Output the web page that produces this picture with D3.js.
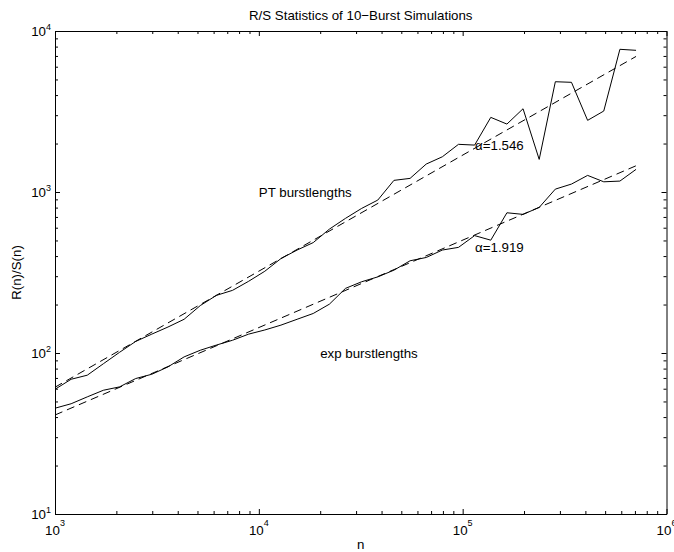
<!DOCTYPE html>
<html>
<head>
<meta charset="utf-8">
<script src="https://cdn.jsdelivr.net/npm/d3@7"></script>
<style>
  body { margin: 0; background: #fff; }
  svg { display: block; font-family: "Liberation Sans", Arial, Helvetica, sans-serif; }
</style>
</head>
<body>
<svg id="chart" width="674" height="552"></svg>
<script>
// block sizes n (x axis)
var n = [1000, 1200, 1440, 1728, 2074, 2488, 2986, 3583, 4300, 5160, 6192, 7430, 8916,
  10699, 12839, 15407, 18488, 22186, 26623, 31948, 38338, 46005, 55206, 66247, 79497,
  95396, 114475, 137371, 164845, 197814, 237376, 284852, 341822, 410186, 492223, 590668, 708801];

// R(n)/S(n), PT burstlengths
var ptRS = [59.5, 68.7, 72.8, 85.8, 101, 118, 131, 145, 162, 197, 228, 245, 279,
  322, 386, 436, 485, 588, 686, 791, 891, 1181, 1215, 1491, 1655,
  1977, 1956, 2908, 2642, 3289, 1594, 4841, 4800, 2786, 3183, 7696, 7586];

// R(n)/S(n), exp burstlengths
var expRS = [45.4, 48.4, 53.4, 58.7, 61.6, 69.4, 73.8, 82.0, 94.6, 104, 112, 120, 131,
  139, 149, 162, 176, 201, 252, 277, 297, 327, 374, 392, 436,
  453, 536, 502, 743, 726, 802, 1042, 1120, 1268, 1157, 1169, 1382];

// fitted lines (end points)
var ptFit = [[1000, 61.3], [708801, 6950]];
var expFit = [[1000, 41.2], [708801, 1455]];

var xTicks = [1e3, 1e4, 1e5, 1e6];
var yTicks = [1e1, 1e2, 1e3, 1e4];

var notes = [
  { n: 1e4, v: 1e3, text: "PT burstlengths" },
  { n: 2e4, v: 1e2, text: "exp burstlengths" },
  { n: 1.15e5, v: 1956, text: "\u03b1=1.546" },
  { n: 1.15e5, v: 452, text: "\u03b1=1.919" }
];

var plotLeft = 55, plotRight = 666.5, plotTop = 31, plotBottom = 514;
var fontSize = 13.3;

var svg = d3.select("#chart");

var x = d3.scaleLog().domain([1e3, 1e6]).range([plotLeft, plotRight]);
var y = d3.scaleLog().domain([1e1, 1e4]).range([plotBottom, plotTop]);

var xMinor = x.ticks().filter(function(t) { return xTicks.indexOf(t) < 0; });
var yMinor = y.ticks().filter(function(t) { return yTicks.indexOf(t) < 0; });

// axes on all four sides, ticks pointing inward
function drawAxis(axisFn, scale, pos, transform) {
  var major = svg.append("g")
    .attr("transform", transform)
    .call(axisFn(scale).tickValues(pos === "x" ? xTicks : yTicks).tickSize(-5).tickSizeOuter(0).tickFormat(""));
  var minor = svg.append("g")
    .attr("transform", transform)
    .call(axisFn(scale).tickValues(pos === "x" ? xMinor : yMinor).tickSize(-3).tickSizeOuter(0).tickFormat(""));
  minor.select(".domain").remove();
  svg.selectAll(".tick line, .domain").attr("stroke", "#000").attr("stroke-width", 1);
}

drawAxis(d3.axisBottom, x, "x", "translate(0," + plotBottom + ")");
drawAxis(d3.axisTop, x, "x", "translate(0," + plotTop + ")");
drawAxis(d3.axisLeft, y, "y", "translate(" + plotLeft + ",0)");
drawAxis(d3.axisRight, y, "y", "translate(" + plotRight + ",0)");

// tick labels 10^k
var xl = svg.append("g").selectAll("text")
  .data(xTicks).enter().append("text")
  .attr("x", function(d) { return x(d); })
  .attr("y", plotBottom + 21)
  .attr("text-anchor", "middle")
  .attr("font-size", fontSize);
xl.append("tspan").text("10");
xl.append("tspan").attr("dy", -9).attr("font-size", 9)
  .text(function(d) { return Math.round(Math.log10(d)); });

var yl = svg.append("g").selectAll("text")
  .data(yTicks).enter().append("text")
  .attr("x", plotLeft - 4)
  .attr("y", function(d) { return y(d) + 4.5; })
  .attr("text-anchor", "end")
  .attr("font-size", fontSize);
yl.append("tspan").text("10");
yl.append("tspan").attr("dy", -6).attr("font-size", 9)
  .text(function(d) { return Math.round(Math.log10(d)); });

// lines
var line = d3.line()
  .x(function(d) { return x(d[0]); })
  .y(function(d) { return y(d[1]); });

var lines = svg.append("g").attr("fill", "none").attr("stroke", "#000");
lines.append("path").attr("d", line(d3.zip(n, ptRS))).attr("stroke-width", 1);
lines.append("path").attr("d", line(d3.zip(n, expRS))).attr("stroke-width", 1);
lines.append("path").attr("d", line(ptFit)).attr("stroke-width", 1).attr("stroke-dasharray", "8,5");
lines.append("path").attr("d", line(expFit)).attr("stroke-width", 1).attr("stroke-dasharray", "8,5");

// annotations
svg.append("g").selectAll("text")
  .data(notes).enter().append("text")
  .attr("x", function(d) { return x(d.n); })
  .attr("y", function(d) { return y(d.v); })
  .attr("dy", "0.35em")
  .attr("font-size", fontSize)
  .text(function(d) { return d.text; });

// title and axis labels
svg.append("text")
  .attr("x", (plotLeft + plotRight) / 2)
  .attr("y", 19.5)
  .attr("text-anchor", "middle")
  .attr("font-size", fontSize)
  .text("R/S Statistics of 10\u2212Burst Simulations");

svg.append("text")
  .attr("x", (plotLeft + plotRight) / 2)
  .attr("y", 549)
  .attr("text-anchor", "middle")
  .attr("font-size", fontSize)
  .text("n");

svg.append("text")
  .attr("transform", "translate(21," + (plotTop + plotBottom) / 2 + ") rotate(-90)")
  .attr("text-anchor", "middle")
  .attr("font-size", fontSize)
  .text("R(n)/S(n)");
</script>
</body>
</html>
